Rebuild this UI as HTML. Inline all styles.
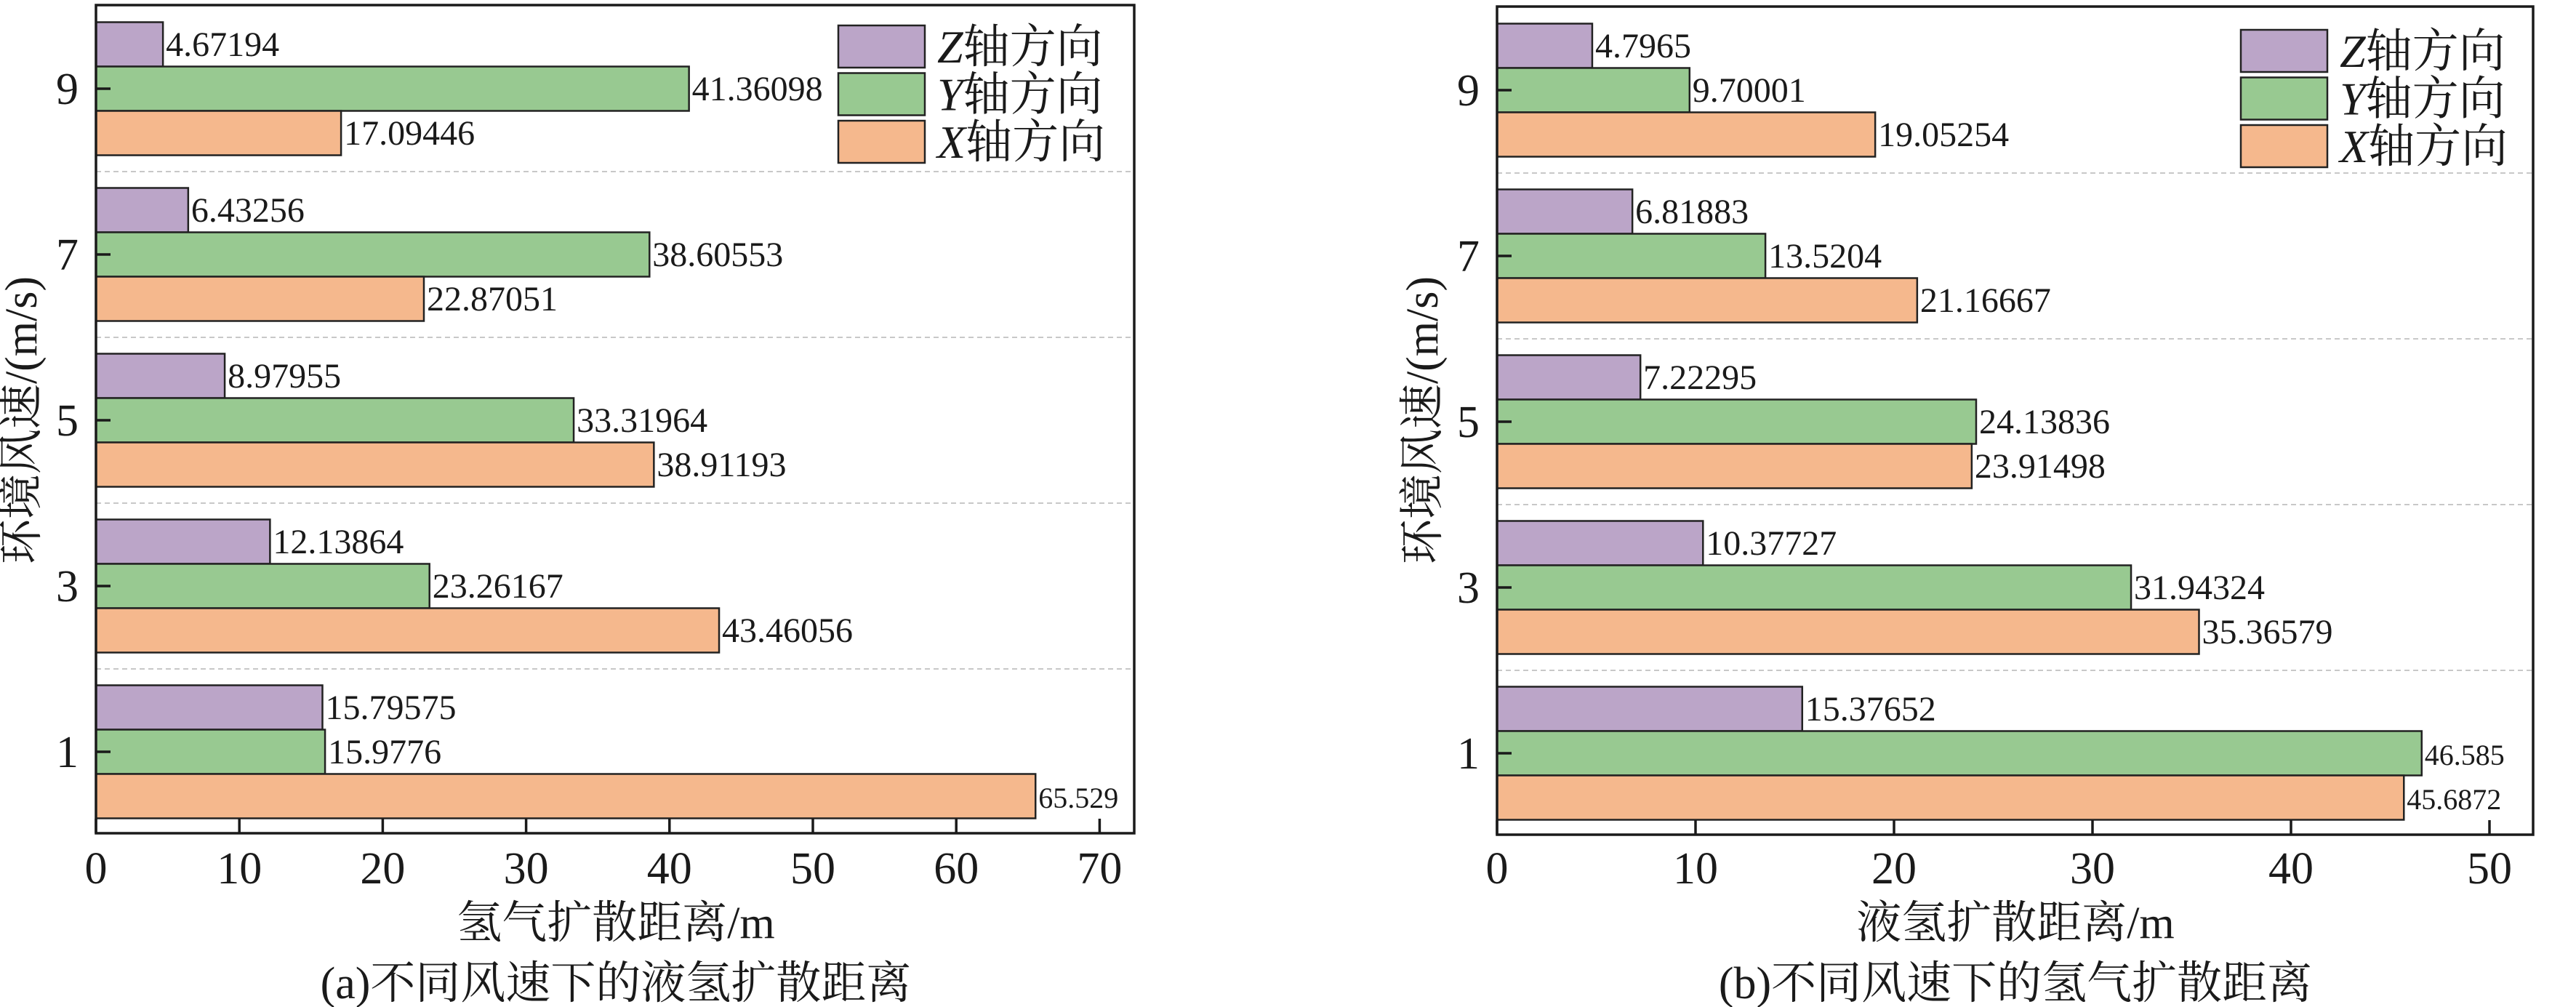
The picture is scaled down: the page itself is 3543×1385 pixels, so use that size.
<!DOCTYPE html>
<html><head><meta charset="utf-8"><style>
html,body{margin:0;padding:0;background:#fff;}
svg{display:block;}
text{font-family:"Liberation Serif","Noto Serif CJK SC",serif;fill:#1a1a1a;}
</style></head><body>
<svg id="chart" width="3543" height="1385" viewBox="0 0 3543 1385" xmlns="http://www.w3.org/2000/svg"></svg>
<script>
const categories = [1, 3, 5, 7, 9];
const seriesNames = ["Z", "Y", "X"];
const leftZ = [15.79575, 12.13864, 8.97955, 6.43256, 4.67194];
const leftY = [15.9776, 23.26167, 33.31964, 38.60553, 41.36098];
const leftX = [65.529, 43.46056, 38.91193, 22.87051, 17.09446];
const leftZLabels = ["15.79575","12.13864","8.97955","6.43256","4.67194"];
const leftYLabels = ["15.9776","23.26167","33.31964","38.60553","41.36098"];
const leftXLabels = ["65.529","43.46056","38.91193","22.87051","17.09446"];
const rightZ = [15.37652, 10.37727, 7.22295, 6.81883, 4.7965];
const rightY = [46.585, 31.94324, 24.13836, 13.5204, 9.70001];
const rightX = [45.6872, 35.36579, 23.91498, 21.16667, 19.05254];
const rightZLabels = ["15.37652","10.37727","7.22295","6.81883","4.7965"];
const rightYLabels = ["46.585","31.94324","24.13836","13.5204","9.70001"];
const rightXLabels = ["45.6872","35.36579","23.91498","21.16667","19.05254"];
const leftXTicks = [0,10,20,30,40,50,60,70];
const rightXTicks = [0,10,20,30,40,50];

const NS = "http://www.w3.org/2000/svg";
const svg = document.getElementById("chart");
const colors = {Z:"#bba5c8", Y:"#98c991", X:"#f5b88d"};
function mk(tag, attrs, parent){
  const e = document.createElementNS(NS, tag);
  for (const k in attrs) e.setAttribute(k, attrs[k]);
  (parent||svg).appendChild(e);
  return e;
}

function drawPanel(cfg){
  const g = mk("g", {});
  
  
  const xs = v => cfg.x0 + v*cfg.ppu;
  const ys = v => cfg.y1 - (v-1)*114;
  const barH = 61;
  [2,4,6,8].forEach(v=>{
    const l = mk("line",{x1:cfg.left,x2:cfg.right,y1:ys(v),y2:ys(v),stroke:"#c8c8c8","stroke-width":2,"stroke-dasharray":"7,5"},g);
    
    
  });
  const data = {Z:cfg.Z, Y:cfg.Y, X:cfg.X};
  const labs = {Z:cfg.ZL, Y:cfg.YL, X:cfg.XL};
  categories.forEach((c,i)=>{
    seriesNames.forEach((s,j)=>{
      const top = ys(c) - 1.5*barH + j*barH;
      const r = mk("rect",{x:xs(0),y:top,width:xs(data[s][i])-xs(0),height:barH,fill:colors[s],stroke:"#222","stroke-width":2.5},g);
      
      
      const big = xs(data[s][i]) > cfg.right - 200;
      const t = mk("text",{x:xs(data[s][i])+4,y:top+barH/2+16,"font-size":big?40:48},g);
      t.textContent = labs[s][i];
      
      
    });
    const tk = mk("line",{x1:cfg.left,x2:cfg.left+20,y1:ys(c),y2:ys(c),stroke:"#1a1a1a","stroke-width":3.5},g);
    
    
    const tl = mk("text",{x:cfg.left-24,y:ys(c)+21,"font-size":62,"text-anchor":"end"},g);
    tl.textContent = c;
    
    
  });
  cfg.ticks.forEach(v=>{
    const tk = mk("line",{x1:xs(v),x2:xs(v),y1:cfg.bottom,y2:cfg.bottom-20,stroke:"#1a1a1a","stroke-width":3.5},g);
    
    
    const tl = mk("text",{x:xs(v),y:1215,"font-size":62,"text-anchor":"middle"},g);
    tl.textContent = v;
    
    
  });
  const fr = mk("rect",{x:cfg.left,y:cfg.top,width:cfg.right-cfg.left,height:cfg.bottom-cfg.top,fill:"none",stroke:"#1a1a1a","stroke-width":3.5},g);
  
  
  const lg = mk("g",{},g);
  
  
  seriesNames.forEach((s,j)=>{
    const y = cfg.legY + j*65.5;
    const r = mk("rect",{x:cfg.legX,y:y,width:119,height:58,fill:colors[s],stroke:"#222","stroke-width":2.5},lg);
    
    
    const t = mk("text",{x:cfg.legX+136,y:y+51,"font-size":64},lg);
    t.innerHTML = '<tspan font-style="italic">'+s+'</tspan>轴方向';
    
    
  });
  const xt = mk("text",{x:cfg.cx,y:1290,"font-size":62,"text-anchor":"middle"},g);
  xt.textContent = cfg.xtitle;
  
  
  const cap = mk("text",{x:cfg.cx,y:1373,"font-size":62,"text-anchor":"middle"},g);
  cap.textContent = cfg.caption;
  
  
  const yt = mk("text",{x:0,y:0,"font-size":62,"text-anchor":"middle",transform:"translate("+(cfg.yTitleX)+",578) rotate(-90)"},g);
  yt.textContent = "环境风速/(m/s)";
  
  
}

drawPanel({name:"panel-a",left:132,right:1560,top:7,bottom:1146,x0:132,ppu:19.72,y1:1034,
  Z:leftZ,Y:leftY,X:leftX,ZL:leftZLabels,YL:leftYLabels,XL:leftXLabels,ticks:leftXTicks,
  legX:1153,legY:35,cx:847,xtitle:"氢气扩散距离/m",caption:"(a)不同风速下的液氢扩散距离",yTitleX:50});
drawPanel({name:"panel-b",left:2059,right:3484,top:9,bottom:1148,x0:2059,ppu:27.3,y1:1036,
  Z:rightZ,Y:rightY,X:rightX,ZL:rightZLabels,YL:rightYLabels,XL:rightXLabels,ticks:rightXTicks,
  legX:3082,legY:41,cx:2772,xtitle:"液氢扩散距离/m",caption:"(b)不同风速下的氢气扩散距离",yTitleX:1977});
</script>
</body></html>
